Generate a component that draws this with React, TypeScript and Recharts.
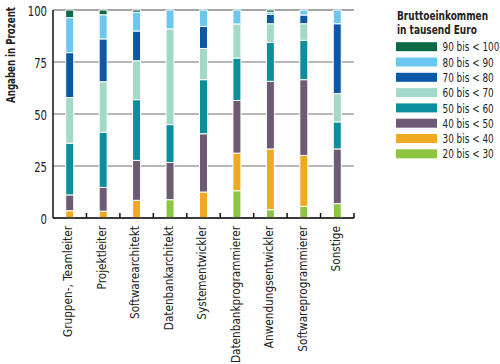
import React from 'react';
import { BarChart, Bar, XAxis, YAxis, CartesianGrid } from 'recharts';

const categories = [
  'Gruppen-, Teamleiter',
  'Projektleiter',
  'Softwarearchitekt',
  'Datenbankarchitekt',
  'Systementwickler',
  'Datenbankprogrammierer',
  'Anwendungsentwickler',
  'Softwareprogrammierer',
  'Sonstige',
];

const s20 = [0, 0, 0, 8.8, 0, 13.1, 4, 5.6, 6.9];
const s30 = [3.5, 3.3, 8.5, 0, 12.5, 18.1, 29.2, 24.5, 0];
const s40 = [7.6, 11.4, 19.2, 17.9, 28, 25.3, 32.5, 36.4, 26.3];
const s50 = [24.9, 26.5, 29.2, 18.2, 26, 20.4, 18.7, 18.9, 13];
const s60 = [21.9, 24.3, 18.7, 46, 15, 16.4, 9, 8, 13.6];
const s70 = [21.6, 20.6, 14.3, 0, 10.6, 0, 4.5, 4.2, 33.6];
const s80 = [16.8, 11.6, 9, 9.1, 7.9, 6.7, 1, 2.4, 6.6];
const s90 = [3.7, 2.3, 1.1, 0, 0, 0, 1.1, 0, 0];

const seriesLabels = [
  '20 bis < 30',
  '30 bis < 40',
  '40 bis < 50',
  '50 bis < 60',
  '60 bis < 70',
  '70 bis < 80',
  '80 bis < 90',
  '90 bis < 100',
];
const seriesColors = [
  '#8cc540',
  '#f0aa22',
  '#6d5a74',
  '#0b8f9c',
  '#a2d9c8',
  '#0d58a6',
  '#6cc7ef',
  '#0b6a44',
];
const seriesValues = [s20, s30, s40, s50, s60, s70, s80, s90];
const yTicks = [0, 25, 50, 75, 100];
const yLabel = 'Angaben in Prozent';
const legendTitle = ['Bruttoeinkommen', 'in tausend Euro'];

const data = categories.map((name, i) => {
  const row: Record<string, number | string> = { name };
  seriesValues.forEach((vals, k) => {
    row['s' + k] = vals[i];
  });
  return row;
});

const FONT = '"DejaVu Sans Condensed", "Liberation Sans Narrow", sans-serif';

const PLOT_W = 301;
const BAND = PLOT_W / categories.length;

const XTick = (props: any) => {
  const { x, y, payload } = props;
  const bx = x + BAND / 2;
  const axisY = y - 8;
  return (
    <g>
      <line x1={bx} y1={axisY} x2={bx} y2={axisY - 5} stroke="#111" strokeWidth={1.5} />
      <g transform={`translate(${x - 2}, ${y}) rotate(-90) scale(0.9, 1)`}>
        <text x={0} y={0} textAnchor="end" dy="0.36em" fontSize={13} fontFamily={FONT} fill="#222">
          {payload.value}
        </text>
      </g>
    </g>
  );
};

const YTick = (props: any) => {
  const { x, y, payload } = props;
  return (
    <g transform={`translate(${x}, ${y + 1}) scale(0.8, 1)`}>
      <text x={0} y={0} textAnchor="end" dy="0.36em" fontSize={14} fontFamily={FONT} fill="#222">
        {payload.value}
      </text>
    </g>
  );
};

export default function App() {
  return (
    <div style={{ position: 'absolute', left: 0, top: 0, width: 500, height: 364, background: '#fff' }}>
      <BarChart
        width={500}
        height={364}
        data={data}
        margin={{ top: 10, right: 146, bottom: 6, left: 0 }}
        barCategoryGap="38%"
      >
        <CartesianGrid vertical={false} stroke="#a0a0a0" strokeWidth={1.5} />
        <XAxis
          dataKey="name"
          interval={0}
          height={140}
          tickLine={false}
          tickSize={0}
          tickMargin={8}
          axisLine={{ stroke: '#111', strokeWidth: 1.5 }}
          tick={<XTick />}
        />
        <YAxis
          width={53}
          domain={[0, 100]}
          ticks={yTicks}
          tickLine={false}
          tickSize={0}
          tickMargin={6}
          axisLine={{ stroke: '#111', strokeWidth: 1.5 }}
          tick={<YTick />}
          label={{
            content: () => (
              <g transform="translate(15, 55) rotate(-90) scale(0.74, 1)">
                <text
                  x={0}
                  y={0}
                  textAnchor="middle"
                  fontSize={13}
                  fontWeight="bold"
                  fontFamily={FONT}
                  fill="#222"
                >
                  {yLabel}
                </text>
              </g>
            ),
          }}
        />
        {seriesValues.map((_, k) => (
          <Bar
            key={k}
            dataKey={'s' + k}
            name={seriesLabels[k]}
            stackId="a"
            fill={seriesColors[k]}
            stroke="#fff"
            strokeWidth={1}
            isAnimationActive={false}
          />
        ))}
      </BarChart>
      <svg
        width={110}
        height={170}
        style={{ position: 'absolute', left: 390, top: 0 }}
      >
        <g transform="translate(7, 19.5) scale(0.8, 1)">
          <text x={0} y={0} fontSize={12.5} fontWeight="bold" fontFamily={FONT} fill="#222">
            {legendTitle[0]}
          </text>
        </g>
        <g transform="translate(7, 34) scale(0.8, 1)">
          <text x={0} y={0} fontSize={12.5} fontWeight="bold" fontFamily={FONT} fill="#222">
            {legendTitle[1]}
          </text>
        </g>
        {seriesLabels
          .map((lab, k) => ({ lab, col: seriesColors[k] }))
          .reverse()
          .map(({ lab, col }, i) => {
            const cy = 46.7 + i * 15.3;
            return (
              <g key={lab}>
                <rect x={6} y={cy - 4.5} width={41} height={9} fill={col} />
                <g transform={`translate(52.5, ${cy}) scale(0.76, 1)`}>
                  <text x={0} y={0} dy="0.36em" fontSize={13} fontFamily={FONT} fill="#222">
                    {lab}
                  </text>
                </g>
              </g>
            );
          })}
      </svg>
    </div>
  );
}
